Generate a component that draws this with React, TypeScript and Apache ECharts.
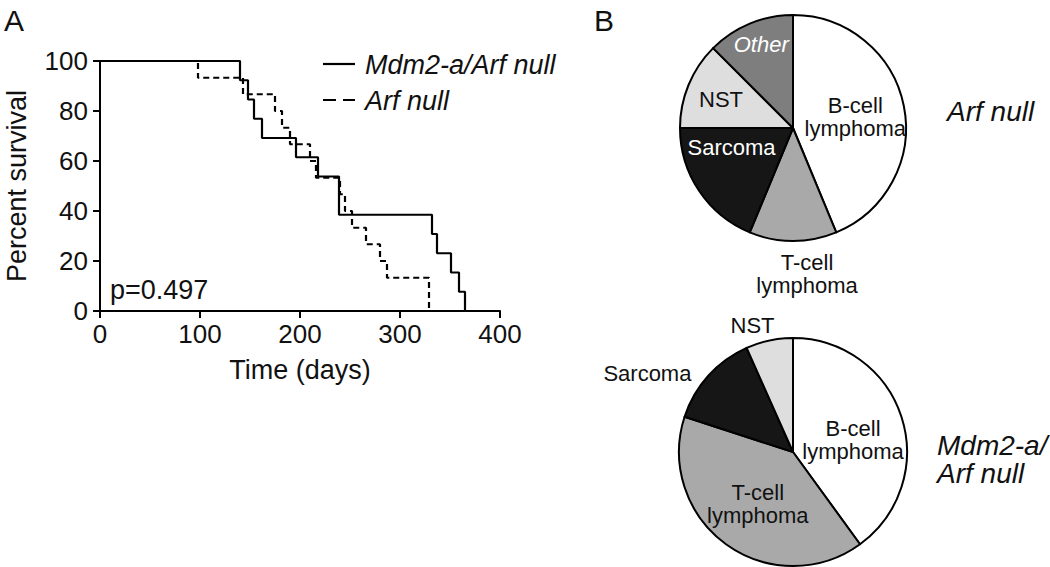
import React, { useEffect, useRef } from "react";
import * as echarts from "echarts";

// Kaplan–Meier survival (days, percent)
const mdm2Days = [0, 140, 148, 154, 162, 196, 218, 239, 332, 337, 351, 359, 365];
const mdm2Surv = [100, 92.3, 84.6, 76.9, 69.2, 61.5, 53.8, 38.5, 30.8, 23.1, 15.4, 7.7, 0];
const arfDays = [0, 98, 143, 175, 182, 190, 210, 216, 240, 245, 252, 266, 280, 287, 329];
const arfSurv = [100, 93.3, 86.7, 80, 73.3, 66.7, 60, 53.3, 46.7, 40, 33.3, 26.7, 20, 13.3, 0];

const seriesNames = ["Mdm2-a/Arf null", "Arf null"];

const xTicks = { min: 0, max: 400, interval: 100 };
const yTicks = { min: 0, max: 100, interval: 20 };

// Tumour spectrum
const tumorTypes = ["B-cell\nlymphoma", "T-cell\nlymphoma", "Sarcoma", "NST", "Other"];
const arfNullCounts = [7, 2, 3, 2, 2];
const mdm2ArfCounts = [6, 6, 2, 1];
const tumorColors = ["#ffffff", "#a9a9a9", "#161616", "#dedede", "#7e7e7e"];

const FONT = "'Liberation Sans', Arial, Helvetica, sans-serif";

export default function App() {
  const ref = useRef<HTMLDivElement>(null);
  useEffect(() => {
    document.body.style.margin = "0";
    const chart = echarts.init(ref.current!, undefined, { renderer: "svg" });

    const arfLabelOffsets = [[4, 1], [14, 86], [-12, -14], [-17, -6], [-9, -29]];
    const mdmLabelOffsets = [[3, 7], [0, 3], [-101, -38], [-28, -68]];
    const arfLabelColors = ["#111", "#111", "#fff", "#111", "#fff"];
    const mdmLabelColors = ["#111", "#111", "#111", "#111"];

    const pieData = (counts: number[], labelColors: string[]) =>
      counts.map((v, i) => ({
        name: tumorTypes[i],
        value: v,
        itemStyle: { color: tumorColors[i] },
        label: {
          color: labelColors[i],
          fontStyle: tumorTypes[i] === "Other" ? "italic" : "normal",
        },
      }));

    const pieBase = {
      type: "pie",
      radius: 113,
      startAngle: 90,
      clockwise: true,
      silent: true,
      itemStyle: { borderColor: "#000", borderWidth: 2 },
      label: {
        show: true,
        position: "inside",
        fontSize: 22,
        lineHeight: 23,
        fontFamily: FONT,
        color: "#111",
      },
      labelLine: { show: false },
      emphasis: { disabled: true },
    };

    const legendText = (text: string, y: number) => ({
      type: "text",
      x: 365,
      y,
      style: {
        text,
        fontSize: 27,
        fontStyle: "italic",
        fontFamily: FONT,
        fill: "#111",
        textVerticalAlign: "middle",
      },
    });

    chart.setOption({
      animation: false,
      backgroundColor: "#fff",
      grid: { left: 100, top: 61, width: 400, height: 250 },
      xAxis: {
        type: "value",
        ...xTicks,
        name: "Time (days)",
        nameLocation: "middle",
        nameGap: 45,
        nameTextStyle: { fontSize: 27, color: "#111", fontFamily: FONT },
        axisLine: { show: true, lineStyle: { color: "#000", width: 2 } },
        axisTick: { show: true, length: 7, lineStyle: { color: "#000", width: 2 } },
        axisLabel: { fontSize: 26, color: "#111", fontFamily: FONT, margin: 10 },
        splitLine: { show: false },
      },
      yAxis: {
        type: "value",
        ...yTicks,
        name: "Percent survival",
        nameLocation: "middle",
        nameGap: 70,
        nameRotate: 90,
        nameTextStyle: { fontSize: 27, color: "#111", fontFamily: FONT },
        axisLine: { show: true, lineStyle: { color: "#000", width: 2 } },
        axisTick: { show: true, length: 7, lineStyle: { color: "#000", width: 2 } },
        axisLabel: { fontSize: 26, color: "#111", fontFamily: FONT, margin: 12 },
        splitLine: { show: false },
      },
      series: [
        {
          name: seriesNames[1],
          type: "line",
          step: "end",
          symbol: "none",
          data: arfDays.map((d, i) => [d, arfSurv[i]]),
          lineStyle: { color: "#000", width: 2.2, type: [6, 4] },
          itemStyle: { color: "#000" },
          z: 2,
        },
        {
          name: seriesNames[0],
          type: "line",
          step: "end",
          symbol: "none",
          data: mdm2Days.map((d, i) => [d, mdm2Surv[i]]),
          lineStyle: { color: "#000", width: 2.2, type: "solid" },
          itemStyle: { color: "#000" },
          z: 3,
        },
        {
          ...pieBase,
          name: "Arf null tumours",
          center: [793, 128],
          data: pieData(arfNullCounts, arfLabelColors),
          labelLayout: (p: any) => {
            const o = arfLabelOffsets[p.dataIndex];
            return { dx: o[0], dy: o[1] };
          },
        },
        {
          ...pieBase,
          name: "Mdm2-a/Arf null tumours",
          center: [793, 452],
          radius: 114,
          data: pieData(mdm2ArfCounts, mdmLabelColors),
          labelLayout: (p: any) => {
            const o = mdmLabelOffsets[p.dataIndex];
            return { dx: o[0], dy: o[1] };
          },
        },
      ],
      graphic: [
        { type: "text", x: 4, y: 5, style: { text: "A", fontSize: 30, fontFamily: FONT, fill: "#111" } },
        { type: "text", x: 594, y: 5, style: { text: "B", fontSize: 30, fontFamily: FONT, fill: "#111" } },
        // legend
        {
          type: "line",
          shape: { x1: 323, y1: 64, x2: 355, y2: 64 },
          style: { stroke: "#000", lineWidth: 2.2 },
        },
        {
          type: "line",
          shape: { x1: 323, y1: 100, x2: 355, y2: 100 },
          style: { stroke: "#000", lineWidth: 2.2, lineDash: [13, 7] },
        },
        legendText(seriesNames[0], 65),
        legendText(seriesNames[1], 101),
        {
          type: "text",
          x: 110,
          y: 290,
          style: { text: "p=0.497", fontSize: 27, fontFamily: FONT, fill: "#111", textVerticalAlign: "middle" },
        },
        {
          type: "text",
          x: 947,
          y: 111,
          style: { text: "Arf null", fontSize: 28, fontStyle: "italic", fontFamily: FONT, fill: "#111", textVerticalAlign: "middle" },
        },
        {
          type: "text",
          x: 937,
          y: 459,
          style: {
            text: "Mdm2-a/\nArf null",
            fontSize: 28,
            lineHeight: 28,
            fontStyle: "italic",
            fontFamily: FONT,
            fill: "#111",
            textVerticalAlign: "middle",
          },
        },
      ],
    });
    return () => chart.dispose();
  }, []);
  return <div ref={ref} style={{ width: 1050, height: 567 }} />;
}
